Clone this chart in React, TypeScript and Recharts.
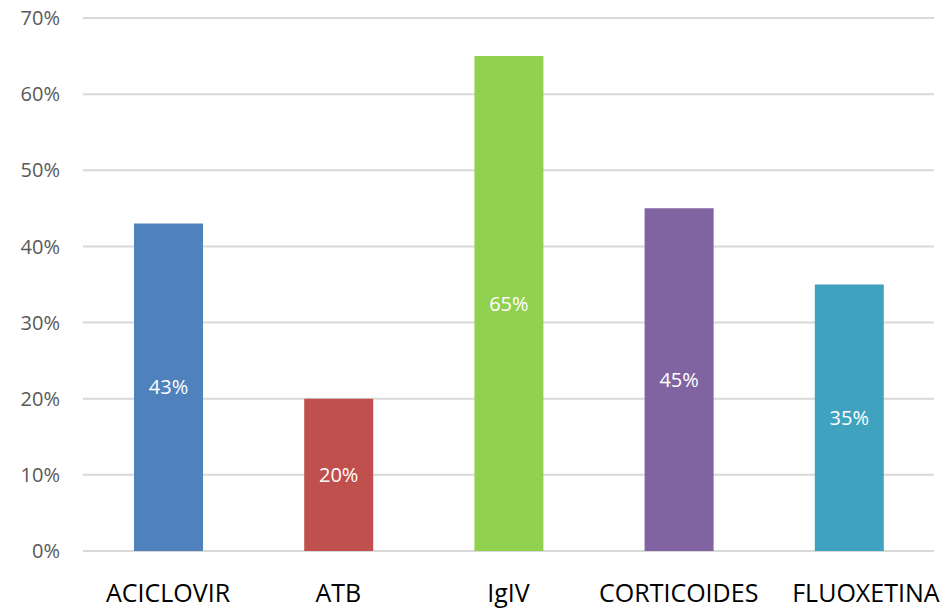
import { BarChart, Bar, XAxis, YAxis, CartesianGrid, Cell, LabelList } from 'recharts';

const categories = ['ACICLOVIR', 'ATB', 'IgIV', 'CORTICOIDES', 'FLUOXETINA'];
const values = [43, 20, 65, 45, 35];
const colors = ['#4F81BD', '#C0504D', '#92D050', '#8064A2', '#3FA3C0'];
const yTicks = [0, 10, 20, 30, 40, 50, 60, 70];

const data = categories.map((name, i) => ({ name, value: values[i] }));

// the last label sits a bit to the right in the original
function CategoryTick(props: any) {
  const { x, y, payload, index } = props;
  const shift = index === categories.length - 1 ? 17 : 0;
  return (
    <text
      x={x + shift}
      y={y}
      dy="0.71em"
      textAnchor="middle"
      fill="#000"
      fontSize={25}
      fontFamily="Open Sans"
    >
      {payload.value}
    </text>
  );
}

export default function App() {
  return (
    <div style={{ position: 'fixed', left: 0, top: 0, width: 947, height: 611, background: '#fff' }}>
      <BarChart width={947} height={611} data={data} margin={{ top: 18, right: 13, bottom: 0, left: -1 }}>
        <CartesianGrid vertical={false} stroke="#d9d9d9" strokeWidth={2} />
        <XAxis
          dataKey="name"
          axisLine={false}
          tickLine={false}
          tickSize={0}
          tickMargin={33}
          height={60}
          interval={0}
          tick={<CategoryTick />}
        />
        <YAxis
          domain={[0, 70]}
          ticks={yTicks}
          width={84}
          axisLine={false}
          tickLine={false}
          tickSize={0}
          tickMargin={23}
          tickFormatter={v => `${v}%`}
          tick={{ fill: '#595959', fontSize: 20, fontFamily: 'Open Sans' }}
        />
        <Bar dataKey="value" barSize={69} isAnimationActive={false}>
          {data.map((d, i) => (
            <Cell key={d.name} fill={colors[i]} />
          ))}
          <LabelList
            dataKey="value"
            position="center"
            formatter={(v: any) => `${v}%`}
            style={{ fill: '#fff', fontSize: 20, fontFamily: 'Open Sans' }}
          />
        </Bar>
      </BarChart>
    </div>
  );
}
